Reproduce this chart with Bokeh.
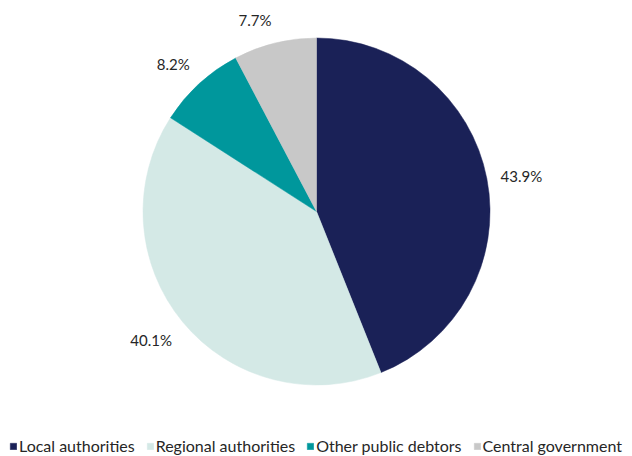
import math
from bokeh.plotting import figure
from bokeh.models import Range1d, Legend, LegendItem
from bokeh.core.properties import value
from bokeh.embed import file_html
from bokeh.resources import INLINE

categories = ["Local authorities", "Regional authorities", "Other public debtors", "Central government"]
shares = [43.9, 40.1, 8.2, 7.7]
labels = ["43.9%", "40.1%", "8.2%", "7.7%"]
colors = ["#1a2157", "#d4e9e6", "#00979c", "#c8c8c8"]

W, H = 632, 456
CX, CY, R = 316, 245, 173.5
GAP = 14
FONT = "Lato"

p = figure(width=W, height=H, output_backend="svg", toolbar_location=None,
           x_range=Range1d(0, W), y_range=Range1d(0, H), min_border=0)
p.axis.visible = False
p.grid.visible = False
p.outline_line_color = None
p.background_fill_color = "white"
p.border_fill_color = "white"

total = sum(shares)
starts, ends, mids = [], [], []
a = math.pi / 2
for s in shares:
    d = 2 * math.pi * s / total
    starts.append(a)
    ends.append(a - d)
    mids.append(a - d / 2)
    a -= d

renderers = []
for i in range(len(shares)):
    r = p.wedge(x=CX, y=CY, radius=R, start_angle=starts[i], end_angle=ends[i],
                direction="clock", fill_color=colors[i], line_color=colors[i], line_width=0.5)
    renderers.append(r)

lx, ly, la, lb = [], [], [], []
for m in mids:
    c, s = math.cos(m), math.sin(m)
    lx.append(CX + (R + GAP) * c)
    ly.append(CY + (R + GAP) * s)
    la.append("left" if c > 0.3 else "right")
    if s > 0.3:
        lb.append("bottom")
    elif s < -0.3:
        lb.append("top")
    else:
        lb.append("middle")
p.text(x=lx, y=ly, text=labels, text_align=la, text_baseline=lb,
       text_font=value(FONT), text_font_size="15px", text_color="#262626")

items = [LegendItem(label=categories[i], renderers=[renderers[i]]) for i in range(len(categories))]
legend = Legend(items=items, orientation="horizontal", location=(9, 1),
                glyph_width=8, glyph_height=8, label_standoff=2, spacing=11,
                padding=0, margin=0, label_height=16,
                label_text_font=FONT, label_text_font_size="16px", label_text_color="#262626",
                border_line_alpha=0, background_fill_alpha=0)
p.add_layout(legend, "center")

open("out.html", "w").write(file_html(p, INLINE))
